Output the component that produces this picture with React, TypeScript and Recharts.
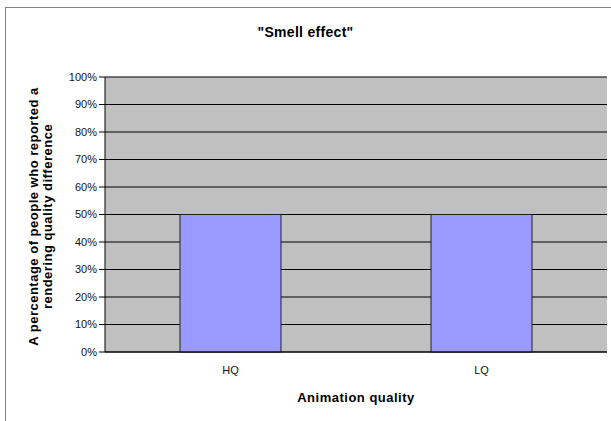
import { Bar, BarChart, CartesianGrid, XAxis, YAxis } from "recharts";

const categories = ["HQ", "LQ"];
const percentReported = [50, 50];
const yTicks = [0, 10, 20, 30, 40, 50, 60, 70, 80, 90, 100];

const title = '"Smell effect"';
const xTitle = "Animation quality";
const yTitleLines = ["A percentage of people who reported a", "rendering quality difference"];

const font = "Arial, 'Liberation Sans', sans-serif";

const data = categories.map((name, i) => ({ name, value: percentReported[i] }));

function YTitle(props: any) {
  const vb = props.viewBox || {};
  const cy = vb.y + vb.height / 2;
  return (
    <g>
      {yTitleLines.map((line, i) => {
        const x = 33 + i * 14;
        return (
          <text
            key={line}
            x={x}
            y={cy + 2}
            transform={`rotate(-90 ${x} ${cy + 2})`}
            textAnchor="middle"
            dominantBaseline="central"
            fontFamily={font}
            fontWeight="bold"
            fontSize={13}
            letterSpacing={0.5}
            fill="#000"
          >
            {line}
          </text>
        );
      })}
    </g>
  );
}

function XTitle(props: any) {
  const vb = props.viewBox || {};
  return (
    <text
      x={vb.x + vb.width / 2}
      y={vb.y + 45}
      textAnchor="middle"
      dominantBaseline="central"
      fontFamily={font}
      fontWeight="bold"
      fontSize={13}
      letterSpacing={0.5}
      fill="#000"
    >
      {xTitle}
    </text>
  );
}

export default function App() {
  return (
    <div
      style={{
        position: "absolute",
        left: 0,
        top: 0,
        width: 611,
        height: 421,
        overflow: "hidden",
        background: "#fff",
        fontFamily: font,
      }}
    >
      <div
        style={{
          position: "absolute",
          left: 5,
          top: 7,
          width: 700,
          height: 500,
          border: "1px solid #808080",
        }}
      />
      <div
        style={{
          position: "absolute",
          left: 0,
          top: 24,
          width: 611,
          textAlign: "center",
          fontSize: 14,
          fontWeight: "bold",
          letterSpacing: 0.3,
          lineHeight: "16px",
        }}
      >
        {title}
      </div>
      <div style={{ position: "absolute", left: 0, top: 0 }}>
        <BarChart
          width={611}
          height={421}
          data={data}
          barSize={101}
          margin={{ top: 77, right: 4, bottom: 0, left: 55 }}
        >
          <CartesianGrid
            yAxisId="left"
            vertical={false}
            stroke="#000"
            fill="#c0c0c0"
            fillOpacity={1}
          />
          <XAxis
            dataKey="name"
            height={69}
            tickLine={false}
            tickMargin={8}
            axisLine={{ stroke: "#000" }}
            tick={{ fill: "#111", fontSize: 11, fontFamily: font }}
            label={<XTitle />}
          />
          <YAxis
            yAxisId="left"
            width={50}
            domain={[0, 100]}
            ticks={yTicks}
            interval={0}
            tickFormatter={(v) => `${v}%`}
            tickSize={6}
            tickLine={{ stroke: "#000" }}
            axisLine={{ stroke: "#000" }}
            tick={{ fill: "#111", fontSize: 11, fontFamily: font }}
            label={<YTitle />}
          />
          <YAxis
            yAxisId="right"
            orientation="right"
            width={0}
            domain={[0, 100]}
            tick={false}
            tickLine={false}
            axisLine={{ stroke: "#808080" }}
          />
          <Bar
            yAxisId="left"
            dataKey="value"
            fill="#9999ff"
            stroke="#222"
            strokeWidth={1}
            isAnimationActive={false}
          />
        </BarChart>
      </div>
    </div>
  );
}
